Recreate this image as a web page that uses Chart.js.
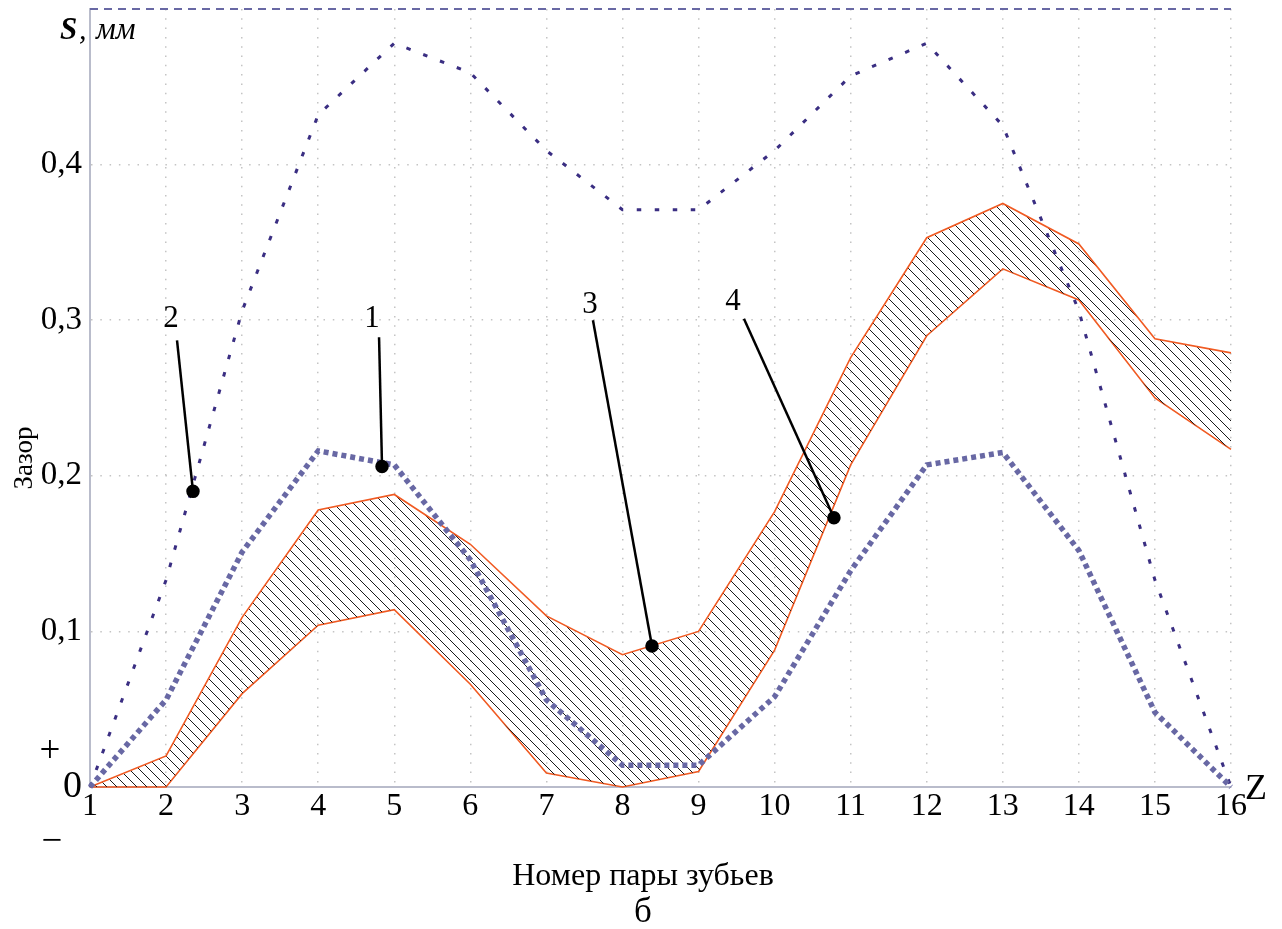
<!DOCTYPE html>
<html>
<head>
<meta charset="utf-8">
<script src="https://cdn.jsdelivr.net/npm/chart.js@4"></script>
<style>
html,body{margin:0;padding:0;background:#fff;}
#wrap{width:1282px;height:929px;}
</style>
</head>
<body>
<div id="wrap"><canvas id="c" width="1282" height="929"></canvas></div>
<script>
// ---- data ----
const pairNumbers = [1,2,3,4,5,6,7,8,9,10,11,12,13,14,15,16];
const curve2 = [0, 0.133, 0.306, 0.432, 0.478, 0.459, 0.409, 0.371, 0.371, 0.409, 0.457, 0.478, 0.425, 0.306, 0.133, 0];
const curve1 = [0, 0.056, 0.151, 0.216, 0.207, 0.146, 0.056, 0.014, 0.014, 0.058, 0.139, 0.207, 0.215, 0.152, 0.048, 0];
const bandUpper = [0, 0.020, 0.109, 0.178, 0.188, 0.156, 0.110, 0.085, 0.100, 0.177, 0.276, 0.353, 0.375, 0.349, 0.288, 0.279];
const bandLower = [0, 0, 0.060, 0.104, 0.114, 0.066, 0.009, 0, 0.010, 0.088, 0.207, 0.290, 0.333, 0.313, 0.250, 0.217];
const upperLimit = 0.5;
const yTicks = [0, 0.1, 0.2, 0.3, 0.4];
// callout labels: text, label position, leader start, leader end (data units)
const calloutText = ['2', '1', '3', '4'];
const calloutLabelX = [2.065, 4.707, 7.573, 9.453];
const calloutLabelY = [0.301, 0.301, 0.310, 0.312];
const leaderStartX = [2.144, 4.80, 7.612, 9.597];
const leaderStartY = [0.287, 0.289, 0.300, 0.301];
const leaderEndX = [2.354, 4.839, 8.388, 10.78];
const leaderEndY = [0.190, 0.206, 0.0906, 0.173];

const SERIF = '"Liberation Serif", "Times New Roman", serif';
const pts = (ys) => pairNumbers.map((x, i) => ({x, y: ys[i]}));

const canvas = document.getElementById('c');
const ctx = canvas.getContext('2d');

function makeHatch() {
  const t = document.createElement('canvas');
  t.width = 10; t.height = 10;
  const g = t.getContext('2d');
  g.strokeStyle = '#1a1a1a';
  g.lineWidth = 1;
  g.beginPath();
  for (const k of [-10, 0, 10]) { g.moveTo(k - 2, -2); g.lineTo(k + 12, 12); }
  g.stroke();
  return ctx.createPattern(t, 'repeat');
}

const leaderSets = calloutText.map((t, i) => ({
  label: 'leader ' + t,
  data: [{x: leaderStartX[i], y: leaderStartY[i]}, {x: leaderEndX[i], y: leaderEndY[i]}],
  borderColor: '#000', backgroundColor: '#000',
  borderWidth: 2.5,
  pointRadius: [0, 5.5], pointHoverRadius: 0,
  fill: false, clip: false
}));

const extraText = {
  id: 'extraText',
  afterDraw(chart) {
    const c = chart.ctx, a = chart.chartArea;
    const xs = chart.scales.x, ys = chart.scales.y;
    c.save();
    c.fillStyle = '#000';
    // callout numbers
    c.font = '31px ' + SERIF;
    c.textAlign = 'center'; c.textBaseline = 'middle';
    calloutText.forEach((t, i) => {
      c.fillText(t, xs.getPixelForValue(calloutLabelX[i]), ys.getPixelForValue(calloutLabelY[i]));
    });
    // axis unit label
    c.textAlign = 'left'; c.textBaseline = 'alphabetic';
    c.font = 'bold italic 31px ' + SERIF;
    c.fillText('S', a.left - 30, a.top + 30);
    c.font = 'italic 30px ' + SERIF;
    c.fillText(',', a.left - 11, a.top + 30);
    c.font = 'italic 31px ' + SERIF;
    c.fillText('мм', a.left + 6, a.top + 30);
    // y title
    c.save();
    c.translate(32, 458);
    c.rotate(-Math.PI / 2);
    c.font = '27px ' + SERIF;
    c.textAlign = 'center'; c.textBaseline = 'alphabetic';
    c.fillText('Зазор', 0, 0);
    c.restore();
    // plus / minus
    c.font = '37px ' + SERIF;
    c.textAlign = 'center'; c.textBaseline = 'middle';
    c.fillText('+', 50, a.bottom - 35);
    c.fillText('\u2212', 52, a.bottom + 55);
    // Z
    c.textAlign = 'left'; c.textBaseline = 'alphabetic';
    c.font = '36px ' + SERIF;
    c.fillText('Z', a.right + 14, a.bottom + 12);
    // x title and caption
    c.textAlign = 'center';
    c.font = '32px ' + SERIF;
    c.fillText('Номер пары зубьев', 643, 885);
    c.font = '35px ' + SERIF;
    c.fillText('б', 643, 922);
    c.restore();
  }
};

const chart = new Chart(ctx, {
  type: 'line',
  data: {
    datasets: [
      ...leaderSets,
      {
        label: 'curve 1',
        data: pts(curve1),
        borderColor: '#6868a4', borderWidth: 5.5,
        borderDash: [5, 4], borderCapStyle: 'butt',
        pointRadius: 0, fill: false, clip: false
      },
      {
        label: 'curve 2',
        data: pts(curve2),
        borderColor: '#3a2e82', borderWidth: 3,
        borderDash: [4.5, 13.5], borderCapStyle: 'butt',
        pointRadius: 0, fill: false, clip: false
      },
      {
        label: 'limit',
        data: [{x: pairNumbers[0], y: upperLimit}, {x: pairNumbers[pairNumbers.length - 1], y: upperLimit}],
        borderColor: '#6868a4', borderWidth: 2,
        borderDash: [8, 6], pointRadius: 0, fill: false, clip: false
      },
      {
        label: 'band upper',
        data: pts(bandUpper),
        borderColor: '#f05a22', borderWidth: 1.6,
        backgroundColor: makeHatch(),
        pointRadius: 0, fill: '+1', clip: false
      },
      {
        label: 'band lower',
        data: pts(bandLower),
        borderColor: '#f05a22', borderWidth: 1.6,
        pointRadius: 0, fill: false, clip: false
      }
    ]
  },
  options: {
    responsive: false,
    animation: false,
    devicePixelRatio: 1,
    layout: { padding: { left: 0, right: 51, top: 9, bottom: 82 } },
    plugins: { legend: { display: false }, tooltip: { enabled: false } },
    elements: { line: { tension: 0 } },
    scales: {
      x: {
        type: 'linear', min: 1, max: 16,
        afterFit: (s) => { s.height = 60; s.paddingLeft = 0; s.paddingRight = 0; },
        afterBuildTicks: (s) => { s.ticks = pairNumbers.map(v => ({value: v})); },
        ticks: { color: '#000', font: { family: SERIF, size: 32 }, padding: 0, maxRotation: 0, autoSkip: false,
          callback: (v) => String(v) },
        grid: { color: '#c4c4c4', lineWidth: 1.5, drawTicks: false },
        border: { color: '#b9bccb', width: 2, dash: [1.5, 7.8] }
      },
      y: {
        type: 'linear', min: 0, max: 0.5,
        afterFit: (s) => { s.width = 90; s.paddingTop = 0; s.paddingBottom = 0; },
        afterBuildTicks: (s) => { s.ticks = yTicks.map(v => ({value: v})); },
        ticks: {
          color: '#000', padding: 8,
          font: (ctx2) => ({ family: SERIF, size: (ctx2.tick && ctx2.tick.value === 0) ? 38 : 33 }),
          callback: (v) => v === 0 ? '0' : v.toFixed(1).replace('.', ',')
        },
        grid: { color: '#c4c4c4', lineWidth: 1.5, drawTicks: false },
        border: { color: '#b9bccb', width: 2, dash: [1.5, 7.8] }
      }
    }
  },
  plugins: [extraText]
});
</script>
</body>
</html>
